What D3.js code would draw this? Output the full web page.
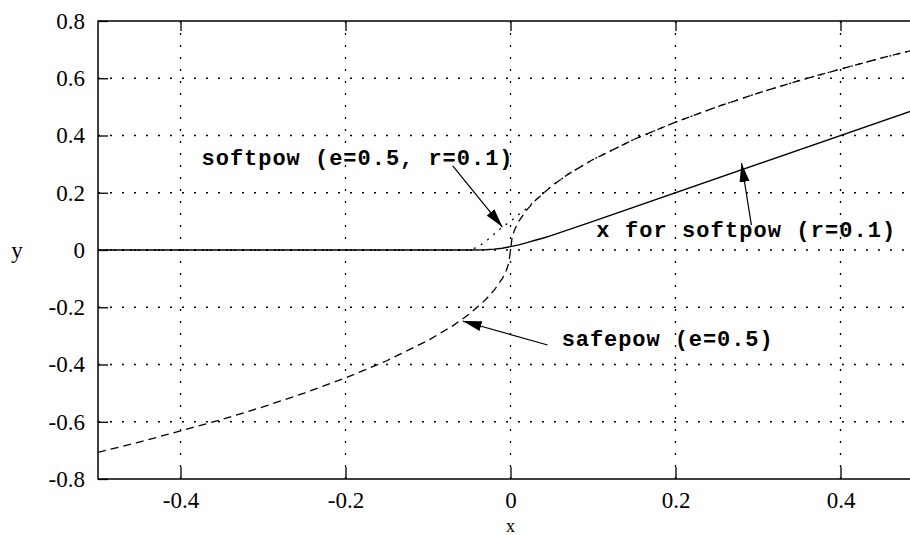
<!DOCTYPE html>
<html>
<head>
<meta charset="utf-8">
<script src="https://cdn.jsdelivr.net/npm/d3@7"></script>
<style>
  body { margin: 0; background: #fff; }
  svg { display: block; }
  svg text.tk { font-family: "Liberation Serif", "Times New Roman", serif; font-size: 23px; }
  svg text.note { font-family: "Liberation Mono", "Courier New", monospace; font-weight: bold; font-size: 22px; }
</style>
</head>
<body>
<script>
"use strict";
(function(){
    // ticks
    const xTicks = [-0.4, -0.2, 0, 0.2, 0.4]
    const yTicks = [-0.8, -0.6, -0.4, -0.2, 0, 0.2, 0.4, 0.6, 0.8]

    // safepow (e=0.5), dashed
    const safeX = [-0.5, -0.45, -0.4, -0.35, -0.3, -0.25, -0.2, -0.15, -0.1, -0.07, -0.05, -0.03, -0.02, -0.01, -0.005, -0.002, 0,
                   0.002, 0.005, 0.01, 0.02, 0.03, 0.05, 0.07, 0.1, 0.15, 0.2, 0.25, 0.3, 0.35, 0.4, 0.45, 0.5]
    const safeY = [-0.707, -0.671, -0.632, -0.592, -0.548, -0.5, -0.447, -0.387, -0.316, -0.265, -0.224, -0.173, -0.141, -0.1, -0.071, -0.045, 0,
                   0.045, 0.071, 0.1, 0.141, 0.173, 0.224, 0.265, 0.316, 0.387, 0.447, 0.5, 0.548, 0.592, 0.632, 0.671, 0.707]

    // softpow (e=0.5, r=0.1), dotted
    const softX = [-0.5, -0.05, -0.04, -0.03, -0.02, -0.01, 0, 0.01, 0.02, 0.03, 0.05, 0.07, 0.1, 0.15, 0.2, 0.25, 0.3, 0.35, 0.4, 0.45, 0.5]
    const softY = [0, 0, 0.01, 0.03, 0.055, 0.08, 0.1, 0.124, 0.146, 0.173, 0.224, 0.265, 0.316, 0.387, 0.447, 0.5, 0.548, 0.592, 0.632, 0.671, 0.707]

    // x for softpow (r=0.1), solid
    const linX = [-0.5, -0.05, -0.03, -0.02, -0.01, 0, 0.01, 0.02, 0.03, 0.04, 0.05, 0.1, 0.5]
    const linY = [0, 0, 0.001, 0.003, 0.006, 0.012, 0.018, 0.026, 0.034, 0.042, 0.051, 0.1, 0.5]

    // annotations: label text, label anchor, arrow start, arrow tip (data units)
    const noteText = ["softpow (e=0.5, r=0.1)", "x for softpow (r=0.1)", "safepow (e=0.5)"]
    const noteAt = [[-0.3745, 0.297], [0.104, 0.045], [0.062, -0.336]]
    const noteWidth = [311, 299, 211]
    const arrowFrom = [[-0.070, 0.294], [0.292, 0.087], [0.045, -0.332]]
    const arrowTo = [[-0.0097, 0.080], [0.280, 0.304], [-0.058, -0.248]]

    const measurements = {
        width: 910,
        height: 535,
        left: 98,
        right: 923,
        top: 21,
        bottom: 479
    }

    let svg = d3.select('body').append('svg')
        .attr('width', measurements.width)
        .attr('height', measurements.height)

    let scaleX = d3.scaleLinear()
        .domain([-0.5, 0.5])
        .range([measurements.left, measurements.right])
    let scaleY = d3.scaleLinear()
        .domain([-0.8, 0.8])
        .range([measurements.bottom, measurements.top])

    // grid
    let grid = svg.append('g')
        .attr('stroke', '#000')
        .attr('stroke-width', 1.3)
        .attr('stroke-dasharray', '2,10')
    grid.selectAll('.vg')
        .data(xTicks)
        .enter()
        .append('line')
            .attr('x1', d => scaleX(d)).attr('x2', d => scaleX(d))
            .attr('y1', measurements.bottom).attr('y2', measurements.top)
    grid.selectAll('.hg')
        .data(yTicks.slice(1, -1))
        .enter()
        .append('line')
            .attr('y1', d => scaleY(d)).attr('y2', d => scaleY(d))
            .attr('x1', measurements.left).attr('x2', measurements.right)

    // axes with inward ticks
    let yAxis = d3.axisLeft(scaleY)
        .tickValues(yTicks)
        .tickFormat(d => String(d))
        .tickSize(-10)
        .tickPadding(13)
    let xAxis = d3.axisBottom(scaleX)
        .tickValues(xTicks)
        .tickFormat(d => String(d))
        .tickSize(-12)
        .tickPadding(13)
    let xTop = d3.axisTop(scaleX)
        .tickValues(xTicks)
        .tickFormat('')
        .tickSize(-10)

    svg.append('g')
        .attr('transform', `translate(${measurements.left},0)`)
        .call(yAxis)
    svg.append('g')
        .attr('transform', `translate(0,${measurements.bottom})`)
        .call(xAxis)
    svg.append('g')
        .attr('transform', `translate(0,${measurements.top})`)
        .call(xTop)
    svg.selectAll('.domain').remove()
    svg.selectAll('.tick line').attr('stroke', '#000').attr('stroke-width', 1.3)
    svg.selectAll('.tick text').attr('fill', '#000').attr('class', 'tk')

    // border
    svg.append('path')
        .attr('d', `M${measurements.right},${measurements.top}H${measurements.left}V${measurements.bottom}H${measurements.right}`)
        .attr('fill', 'none')
        .attr('stroke', '#000')
        .attr('stroke-width', 1.5)

    // axis titles
    svg.append('text')
        .attr('class', 'tk')
        .attr('x', 17).attr('y', 258)
        .attr('text-anchor', 'middle')
        .text('y')
    svg.append('text')
        .attr('class', 'tk')
        .attr('x', scaleX(0)).attr('y', 532)
        .attr('text-anchor', 'middle')
        .style('font-size', '18px')
        .text('x')

    // curves
    let line = d3.line()
        .x(d => scaleX(d[0]))
        .y(d => scaleY(d[1]))
    svg.append('clipPath').attr('id', 'plotclip')
        .append('rect')
        .attr('x', measurements.left).attr('y', measurements.top)
        .attr('width', measurements.right - measurements.left)
        .attr('height', measurements.bottom - measurements.top)
    let curves = svg.append('g')
        .attr('clip-path', 'url(#plotclip)')

    curves.append('path')
        .attr('d', line(d3.zip(safeX, safeY)))
        .attr('fill', 'none').attr('stroke', '#000')
        .attr('stroke-width', 1.3).attr('stroke-dasharray', '8,5')
    curves.append('path')
        .attr('d', line(d3.zip(softX, softY)))
        .attr('fill', 'none').attr('stroke', '#000')
        .attr('stroke-width', 1.3).attr('stroke-dasharray', '2,6')
    curves.append('path')
        .attr('d', line(d3.zip(linX, linY)))
        .attr('fill', 'none').attr('stroke', '#000')
        .attr('stroke-width', 1.4)

    // arrows
    svg.append('defs').append('marker')
        .attr('id', 'head')
        .attr('markerUnits', 'userSpaceOnUse')
        .attr('markerWidth', 20).attr('markerHeight', 12)
        .attr('refX', 19).attr('refY', 5)
        .attr('orient', 'auto')
        .append('path')
        .attr('d', 'M0,0L19,5L0,10Z')
        .attr('fill', '#000')

    svg.selectAll('.arrow')
        .data(d3.range(noteText.length))
        .enter()
        .append('line')
            .attr('x1', i => scaleX(arrowFrom[i][0]))
            .attr('y1', i => scaleY(arrowFrom[i][1]))
            .attr('x2', i => scaleX(arrowTo[i][0]))
            .attr('y2', i => scaleY(arrowTo[i][1]))
            .attr('stroke', '#000')
            .attr('stroke-width', 1.2)
            .attr('marker-end', 'url(#head)')

    svg.selectAll('.note')
        .data(d3.range(noteText.length))
        .enter()
        .append('text')
            .attr('class', 'note')
            .attr('x', i => scaleX(noteAt[i][0]))
            .attr('y', i => scaleY(noteAt[i][1]))
            .attr('textLength', i => noteWidth[i])
            .attr('lengthAdjust', 'spacing')
            .text(i => noteText[i])
})()
</script>
</body>
</html>
